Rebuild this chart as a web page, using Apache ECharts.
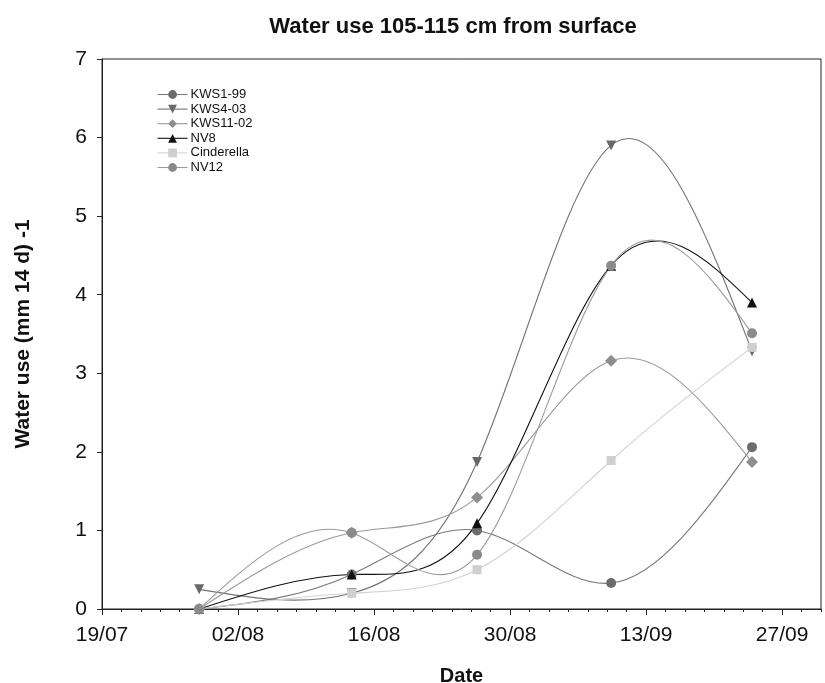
<!DOCTYPE html>
<html>
<head>
<meta charset="utf-8">
<script src="https://cdn.jsdelivr.net/npm/echarts@6/dist/echarts.min.js"></script>
<style>
html,body{margin:0;padding:0;background:#fff;}
#chart{width:825px;height:683px;}
</style>
</head>
<body>
<div id="chart"></div>
<script>
// x values: days after 19/07
var sampleDays = [10, 25.7, 38.6, 52.4, 66.9];
var xTickLabels = ['19/07', '02/08', '16/08', '30/08', '13/09', '27/09'];
var yTickLabels = ['0', '1', '2', '3', '4', '5', '6', '7'];

var seriesNames = ['KWS1-99', 'KWS4-03', 'KWS11-02', 'NV8', 'Cinderella', 'NV12'];
var kws1_99   = [0, 0.44, 1.00, 0.33, 2.06];
var kws4_03   = [0.25, 0.20, 1.87, 5.90, 3.28];
var kws11_02  = [0, 0.97, 1.42, 3.16, 1.87];
var nv8       = [0, 0.44, 1.09, 4.37, 3.90];
var cinderella= [0, 0.20, 0.50, 1.89, 3.33];
var nv12      = [0, 0.97, 0.69, 4.37, 3.51];

var values = [kws1_99, kws4_03, kws11_02, nv8, cinderella, nv12];
var styles = [
  {symbol: 'circle', size: 10, rotate: 0, fill: '#6c6c6c', line: '#7a7a7a'},
  {symbol: 'triangle', size: 10, rotate: 180, fill: '#686868', line: '#737373'},
  {symbol: 'diamond', size: 12, rotate: 0, fill: '#8e8e8e', line: '#9a9a9a'},
  {symbol: 'triangle', size: 10, rotate: 0, fill: '#111111', line: '#111111'},
  {symbol: 'rect', size: 9, rotate: 0, fill: '#cfcfcf', line: '#d2d2d2'},
  {symbol: 'circle', size: 10, rotate: 0, fill: '#8a8a8a', line: '#9a9a9a'}
];

// natural cubic spline through pixel points -> bezier segments
function splineSegments(pts) {
  var n = pts.length - 1, i;
  var h = [], M = new Array(n + 1).fill(0);
  for (i = 0; i < n; i++) h.push(pts[i + 1][0] - pts[i][0]);
  if (n >= 2) {
    var a = [], b = [], c = [], d = [];
    for (i = 1; i < n; i++) {
      a.push(h[i - 1]);
      b.push(2 * (h[i - 1] + h[i]));
      c.push(h[i]);
      d.push(6 * ((pts[i + 1][1] - pts[i][1]) / h[i] - (pts[i][1] - pts[i - 1][1]) / h[i - 1]));
    }
    var m = b.length;
    for (i = 1; i < m; i++) {
      var w = a[i] / b[i - 1];
      b[i] -= w * c[i - 1];
      d[i] -= w * d[i - 1];
    }
    var sol = new Array(m);
    sol[m - 1] = d[m - 1] / b[m - 1];
    for (i = m - 2; i >= 0; i--) sol[i] = (d[i] - c[i] * sol[i + 1]) / b[i];
    for (i = 1; i < n; i++) M[i] = sol[i - 1];
  }
  var segs = [];
  for (i = 0; i < n; i++) {
    var x0 = pts[i][0], y0 = pts[i][1], x1 = pts[i + 1][0], y1 = pts[i + 1][1], hh = h[i];
    var s = (y1 - y0) / hh;
    var m0 = s - hh * (2 * M[i] + M[i + 1]) / 6;
    var m1 = s + hh * (M[i] + 2 * M[i + 1]) / 6;
    segs.push({x1: x0, y1: y0, cpx1: x0 + hh / 3, cpy1: y0 + m0 * hh / 3,
               cpx2: x1 - hh / 3, cpy2: y1 - m1 * hh / 3, x2: x1, y2: y1});
  }
  return segs;
}

var series = [];
seriesNames.forEach(function (name, i) {
  var s = styles[i];
  var pts = values[i].map(function (v, j) { return [sampleDays[j], v]; });
  series.push({
    name: name + ' curve',
    type: 'custom',
    coordinateSystem: 'cartesian2d',
    data: pts,
    encode: {x: 0, y: 1},
    silent: true,
    renderItem: function (params, api) {
      if (params.dataIndex !== 0) return null;
      var px = pts.map(function (p) { return api.coord(p); });
      var segs = splineSegments(px);
      return {
        type: 'group',
        children: segs.map(function (sg) {
          return {type: 'bezierCurve', shape: sg,
                  style: {stroke: s.line, fill: null, lineWidth: 1.1}};
        })
      };
    }
  });
  series.push({
    name: name,
    type: 'line',
    data: pts,
    symbol: s.symbol,
    symbolSize: s.size,
    symbolRotate: s.rotate,
    showSymbol: true,
    lineStyle: {color: s.line, width: 0, opacity: 0},
    itemStyle: {color: s.fill, borderWidth: 0},
    emphasis: {disabled: true}
  });
});

var legendData = seriesNames.map(function (name, i) {
  return {name: name, lineStyle: {color: styles[i].line, width: 1.1, opacity: 1}};
});

var xTickValues = xTickLabels.map(function (l, i) { return i * 14; });

var chart = echarts.init(document.getElementById('chart'), null, {renderer: 'canvas'});
chart.setOption({
  animation: false,
  backgroundColor: '#fff',
  textStyle: {fontFamily: 'Liberation Sans, Arial, sans-serif'},
  title: {
    text: 'Water use 105-115 cm from surface',
    left: 448, top: 11, textAlign: 'center',
    textStyle: {fontSize: 22, fontWeight: 'bold', color: '#111', fontFamily: 'Liberation Sans, Arial, sans-serif'}
  },
  legend: {
    orient: 'vertical',
    left: 152, top: 83,
    itemWidth: 30, itemHeight: 11, itemGap: 1.6,
    textStyle: {fontSize: 13, color: '#111', lineHeight: 13, padding: [0, 0, 0, -2]},
    data: legendData
  },
  grid: {
    left: 102, right: 4, top: 59, bottom: 74,
    outerBoundsMode: 'none', containLabel: false,
    show: true, borderColor: '#222', borderWidth: 1
  },
  xAxis: [{
    type: 'value', min: 0, max: 74,
    name: 'Date', nameLocation: 'middle', nameGap: 57,
    nameTextStyle: {fontSize: 20, fontWeight: 'bold', color: '#111'},
    axisLine: {show: true, lineStyle: {color: '#222', width: 1}},
    axisTick: {show: true, length: 6, inside: false, customValues: xTickValues, lineStyle: {color: '#222'}},
    axisLabel: {
      show: true, fontSize: 21, color: '#111', margin: 16,
      customValues: xTickValues,
      formatter: function (v) { var i = Math.round(v / 14); return xTickLabels[i] || ''; }
    },
    splitLine: {show: false}
  }, {
    type: 'value', min: 0, max: 74, interval: 2, position: 'bottom', offset: 0,
    axisLine: {show: false},
    axisTick: {show: true, length: 3, lineStyle: {color: '#222'}},
    axisLabel: {show: false},
    splitLine: {show: false}
  }],
  yAxis: {
    type: 'value', min: 0, max: 7, interval: 1,
    name: 'Water use (mm 14 d) -1', nameLocation: 'middle', nameGap: 68,
    nameTextStyle: {fontSize: 21, fontWeight: 'bold', color: '#111'},
    axisLine: {show: true, lineStyle: {color: '#222', width: 1}},
    axisTick: {show: true, length: 5, lineStyle: {color: '#222'}},
    axisLabel: {fontSize: 21, color: '#111', margin: 15, formatter: function (v) { return yTickLabels[v]; }},
    splitLine: {show: false}
  },
  series: series
});
</script>
</body>
</html>
